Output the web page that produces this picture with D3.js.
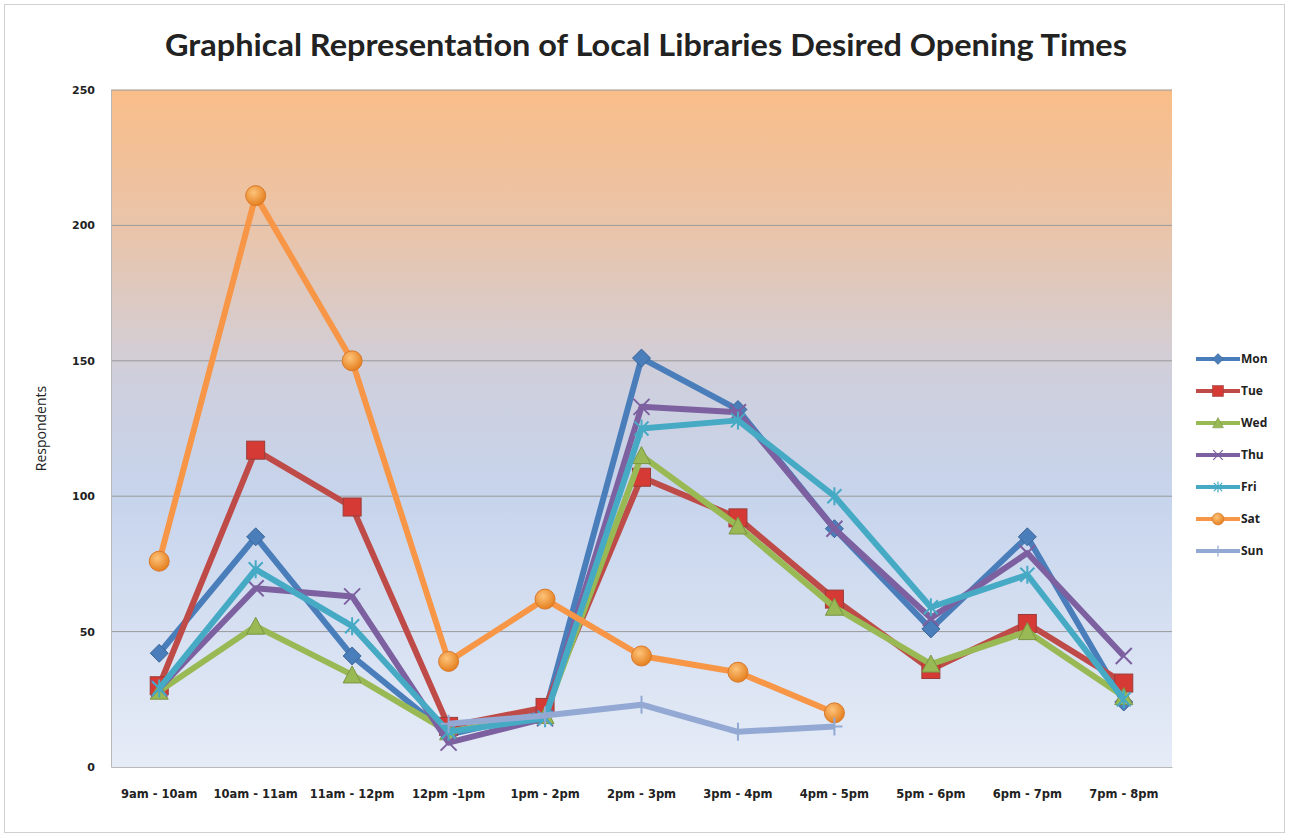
<!DOCTYPE html>
<html>
<head>
<meta charset="utf-8">
<script src="https://cdn.jsdelivr.net/npm/d3@7"></script>
<style>
    body { margin: 0; background: #fff; }
    text { font-family: "Open Sans", Lato, sans-serif; fill: #222; }
</style>
</head>
<body>
<div id="chart"></div>
<script>
const timeSlots = ['9am - 10am', '10am - 11am', '11am - 12pm', '12pm -1pm', '1pm - 2pm', '2pm - 3pm',
    '3pm - 4pm', '4pm - 5pm', '5pm - 6pm', '6pm - 7pm', '7pm - 8pm'];
const mon = [42, 85, 41, 12, 20, 151, 132, 88, 51, 85, 24];
const tue = [30, 117, 96, 15, 22, 107, 92, 62, 36, 53, 31];
const wed = [28, 52, 34, 13, 19, 115, 89, 59, 38, 50, 26];
const thu = [29, 66, 63, 9, 18, 133, 131, 88, 55, 79, 41];
const fri = [29, 73, 52, 13, 18, 125, 128, 100, 59, 71, 25];
const sat = [76, 211, 150, 39, 62, 41, 35, 20, null, null, null];
const sun = [null, null, null, 16, 19, 23, 13, 15, null, null, null];
const yTicks = [0, 50, 100, 150, 200, 250];

const series = [
    { name: 'Mon', values: mon, color: '#4a7ebb', marker: 'diamond' },
    { name: 'Tue', values: tue, color: '#be4b48', marker: 'square' },
    { name: 'Wed', values: wed, color: '#98b954', marker: 'triangle' },
    { name: 'Thu', values: thu, color: '#7d60a0', marker: 'cross' },
    { name: 'Fri', values: fri, color: '#46aac5', marker: 'star' },
    { name: 'Sat', values: sat, color: '#f79646', marker: 'circle' },
    { name: 'Sun', values: sun, color: '#93a9d4', marker: 'plus' }
];

const width = 1289, height = 840;
const margin = { top: 90, right: 117, bottom: 73, left: 111 };
const innerW = width - margin.left - margin.right;
const innerH = height - margin.top - margin.bottom;

const svg = d3.select('#chart').append('svg')
    .attr('width', width)
    .attr('height', height);

// outer frame
svg.append('rect')
    .attr('x', 4.5).attr('y', 4.5)
    .attr('width', width - 9).attr('height', height - 12)
    .attr('fill', '#fff')
    .attr('stroke', '#d0d0d0');

const defs = svg.append('defs');
const bg = defs.append('linearGradient')
    .attr('id', 'plotBg')
    .attr('x1', 0).attr('y1', 0).attr('x2', 0).attr('y2', 1);
[['0%', '#f9bd88'], ['22%', '#e8c5ad'], ['42%', '#cfcfdc'], ['60%', '#c6d4ec'], ['100%', '#e6ecf7']]
    .forEach(([o, c]) => bg.append('stop').attr('offset', o).attr('stop-color', c));

const satGrad = defs.append('radialGradient')
    .attr('id', 'satBall').attr('cx', '40%').attr('cy', '35%').attr('r', '65%');
satGrad.append('stop').attr('offset', '0%').attr('stop-color', '#fdc37a');
satGrad.append('stop').attr('offset', '100%').attr('stop-color', '#e5801f');

// title
svg.append('text')
    .attr('x', 646).attr('y', 56)
    .attr('text-anchor', 'middle')
    .attr('textLength', 962)
    .attr('lengthAdjust', 'spacingAndGlyphs')
    .style('font-size', '31px')
    .style('font-weight', 'bold')
    .style('font-family', 'Lato, "Open Sans", sans-serif')
    .attr('fill', '#1a1a1a')
    .text('Graphical Representation of Local Libraries Desired Opening Times');

const g = svg.append('g')
    .attr('transform', `translate(${margin.left},${margin.top})`);

g.append('rect')
    .attr('width', innerW)
    .attr('height', innerH)
    .attr('fill', 'url(#plotBg)');

const xScale = d3.scaleBand()
    .domain(timeSlots)
    .range([0, innerW]);
const xPos = i => xScale(timeSlots[i]) + xScale.bandwidth() / 2;

const yScale = d3.scaleLinear()
    .domain([0, 250])
    .range([innerH, 0]);

// grid
g.append('g')
    .selectAll('line')
    .data(yTicks.filter(d => d > 0))
    .join('line')
    .attr('x1', 0).attr('x2', innerW)
    .attr('y1', d => yScale(d)).attr('y2', d => yScale(d))
    .attr('stroke', '#9a9a9a')
    .attr('stroke-width', 1);

// y axis
const yAxis = d3.axisLeft(yScale).tickValues(yTicks).tickSize(0).tickPadding(16);
const yAxisG = g.append('g').call(yAxis);
yAxisG.select('.domain').attr('stroke', '#b8b8b8');
yAxisG.selectAll('text')
    .style('font-size', '11px')
    .style('font-weight', 'bold')
    .style('font-family', '"DejaVu Sans", sans-serif')
    .attr('fill', '#444');

// x axis
const xAxis = d3.axisBottom(xScale).tickSize(0).tickPadding(23);
const xAxisG = g.append('g')
    .attr('transform', `translate(0,${innerH})`)
    .call(xAxis);
xAxisG.select('.domain').attr('stroke', '#b8b8b8');
xAxisG.selectAll('text')
    .style('font-size', '11.5px')
    .style('font-weight', 'bold')
    .style('font-family', '"DejaVu Sans", sans-serif')
    .attr('fill', '#444');

svg.append('text')
    .attr('transform', `translate(46,${margin.top + innerH / 2}) rotate(-90)`)
    .attr('text-anchor', 'middle')
    .style('font-size', '14px')
    .attr('fill', '#222')
    .text('Respondents');

function drawMarker(sel, s, x, y, scale) {
    const k = scale || 1;
    const mg = sel.append('g').attr('transform', `translate(${x},${y}) scale(${k})`);
    const dark = d3.color(s.color).darker(0.6);
    if (s.marker === 'diamond') {
        mg.append('path').attr('d', 'M0,-9L9,0L0,9L-9,0Z')
            .attr('fill', s.color).attr('stroke', dark).attr('stroke-width', 1);
    } else if (s.marker === 'square') {
        mg.append('rect').attr('x', -9).attr('y', -9).attr('width', 18).attr('height', 18)
            .attr('fill', '#d63a35').attr('stroke', dark).attr('stroke-width', 1);
    } else if (s.marker === 'triangle') {
        mg.append('path').attr('d', 'M0,-9L9,8L-9,8Z')
            .attr('fill', s.color).attr('stroke', dark).attr('stroke-width', 1);
    } else if (s.marker === 'cross') {
        mg.append('path').attr('d', 'M-8,-8L8,8M8,-8L-8,8')
            .attr('stroke', s.color).attr('stroke-width', 2);
    } else if (s.marker === 'star') {
        mg.append('path').attr('d', 'M-7,-7L7,7M7,-7L-7,7M0,-9L0,9')
            .attr('stroke', s.color).attr('stroke-width', 2);
    } else if (s.marker === 'circle') {
        mg.append('circle').attr('r', 10)
            .attr('fill', 'url(#satBall)').attr('stroke', '#d9782a').attr('stroke-width', 1);
    } else if (s.marker === 'plus') {
        mg.append('path').attr('d', 'M-8,0L8,0M0,-9L0,9')
            .attr('stroke', s.color).attr('stroke-width', 2);
    }
}

const line = d3.line()
    .defined(d => d.v != null)
    .x(d => xPos(d.i))
    .y(d => yScale(d.v));

series.forEach(s => {
    const pts = s.values.map((v, i) => ({ v, i }));
    const sg = g.append('g');
    sg.append('path')
        .datum(pts)
        .attr('fill', 'none')
        .attr('stroke', s.color)
        .attr('stroke-width', 6)
        .attr('stroke-linejoin', 'round')
        .attr('d', line);
    pts.filter(d => d.v != null).forEach(d => drawMarker(sg, s, xPos(d.i), yScale(d.v)));
});

// legend
const legend = svg.append('g').attr('transform', 'translate(1196,359)');
series.forEach((s, i) => {
    const lg = legend.append('g').attr('transform', `translate(0,${i * 32})`);
    lg.append('line')
        .attr('x1', 0).attr('x2', 44)
        .attr('stroke', s.color).attr('stroke-width', 4);
    drawMarker(lg, s, 22, 0, 0.6);
    lg.append('text')
        .attr('x', 45).attr('y', 4)
        .style('font-size', '12px')
        .style('font-weight', 'bold')
        .attr('fill', '#333')
        .text(s.name);
});
</script>
</body>
</html>
